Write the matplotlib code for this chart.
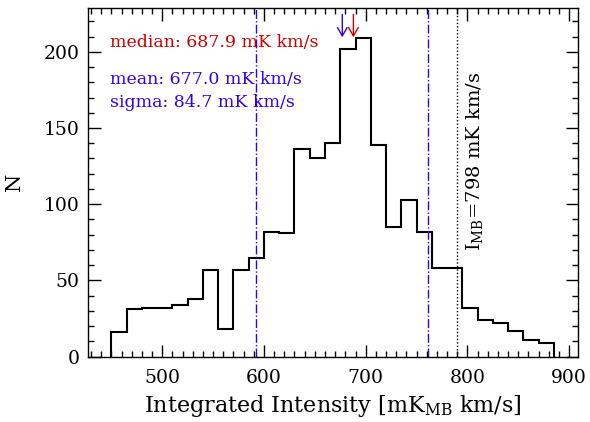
import numpy as np
import matplotlib
matplotlib.use('Agg')
import matplotlib.pyplot as plt
from matplotlib.ticker import MultipleLocator

# histogram of integrated intensity (15 mK km/s bins)
bin_edges = np.arange(450, 886, 15)
counts = [16, 31, 32, 32, 34, 38, 57, 18, 57, 65, 82, 81, 136, 130, 140,
          202, 209, 139, 85, 103, 82, 58, 58, 32, 24, 22, 17, 11, 9]

mean_val = 677.0
median_val = 687.9
sigma_val = 84.7
imb_line = 790

RED = '#cc0000'
BLUE = '#3300ee'

plt.rcParams['font.family'] = ['DejaVu Serif']
plt.rcParams['mathtext.fontset'] = 'dejavuserif'

fig = plt.figure(figsize=(5.9, 4.22), dpi=100)
ax = fig.add_axes([88/590, (422-356.7)/422, 490.3/590, 348.7/422])

ax.stairs(counts, bin_edges, color='k', lw=1.5, baseline=0)

ax.axvline(mean_val - sigma_val, color=BLUE, lw=1, ls='-.')
ax.axvline(mean_val + sigma_val, color=BLUE, lw=1, ls='-.')
ax.axvline(imb_line, color='k', lw=1, ls=(0, (1, 1.5)))

# arrows marking mean and median
for xv, col in [(mean_val, BLUE), (median_val, RED)]:
    ax.annotate('', xy=(xv, 209.5), xytext=(xv, 224.5),
                arrowprops=dict(arrowstyle='->,head_length=0.6,head_width=0.35',
                                color=col, lw=1, shrinkA=0, shrinkB=0))

ax.text(449, 206, 'median: %.1f mK km/s' % median_val, color=RED,
        fontsize=12.5, va='center')
ax.text(449, 181.5, 'mean: %.1f mK km/s' % mean_val, color=BLUE,
        fontsize=12.5, va='center')
ax.text(449, 167, 'sigma: %.1f mK km/s' % sigma_val, color=BLUE,
        fontsize=12.5, va='center')
ax.text(807, 69, r'I$_{\mathrm{MB}}$=798 mK km/s', rotation=90,
        fontsize=14, ha='center', va='bottom')

ax.set_xlim(427, 909)
ax.set_ylim(0, 228.7)
ax.xaxis.set_major_locator(MultipleLocator(100))
ax.xaxis.set_minor_locator(MultipleLocator(10))
ax.yaxis.set_major_locator(MultipleLocator(50))
ax.yaxis.set_minor_locator(MultipleLocator(10))
ax.tick_params(which='both', direction='in', top=True, right=True, width=1)
ax.tick_params(which='major', length=9)
ax.tick_params(which='minor', length=4.5)
ax.tick_params(axis='x', labelsize=13.5, pad=9)
ax.tick_params(axis='y', labelsize=13.5, pad=6)
for s in ax.spines.values():
    s.set_linewidth(1)

ax.set_xlabel(r'Integrated Intensity [mK$_{\mathrm{MB}}$ km/s]', fontsize=16, labelpad=4)
ax.set_ylabel('N', fontsize=15, labelpad=14)

fig.savefig('out.png', dpi=100)
